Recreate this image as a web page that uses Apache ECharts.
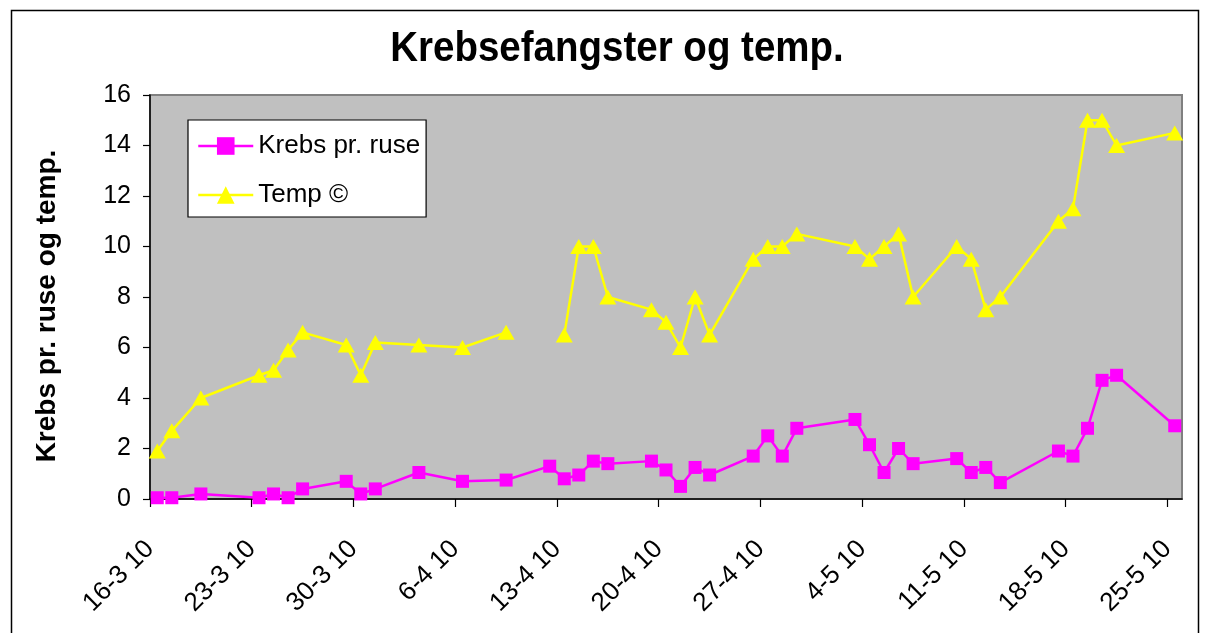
<!DOCTYPE html>
<html>
<head>
<meta charset="utf-8">
<script src="https://cdn.jsdelivr.net/npm/echarts@6/dist/echarts.min.js"></script>
<style>
html,body{margin:0;padding:0;background:#fff;}
#c{width:1205px;height:633px;}
</style>
</head>
<body>
<div id="c"></div>
<script>
const dates = ['2010-03-16','2010-03-17','2010-03-19','2010-03-23','2010-03-24','2010-03-25','2010-03-26','2010-03-29','2010-03-30','2010-03-31',
  '2010-04-03','2010-04-06','2010-04-09','2010-04-12','2010-04-13','2010-04-14','2010-04-15','2010-04-16','2010-04-19','2010-04-20','2010-04-21','2010-04-22','2010-04-23','2010-04-26','2010-04-27','2010-04-28','2010-04-29',
  '2010-05-03','2010-05-04','2010-05-05','2010-05-06','2010-05-07','2010-05-10','2010-05-11','2010-05-12','2010-05-13',
  '2010-05-17','2010-05-18','2010-05-19','2010-05-20','2010-05-21','2010-05-25'];
const krebs = [0.05,0.05,0.2,0.05,0.2,0.05,0.4,0.7,0.2,0.4,
  1.05,0.7,0.75,1.3,0.8,0.95,1.5,1.4,1.5,1.15,0.5,1.25,0.95,1.7,2.5,1.7,2.8,
  3.15,2.15,1.05,2.0,1.4,1.6,1.05,1.25,0.65,
  1.9,1.7,2.8,4.7,4.9,2.9];
const temp = [1.9,2.7,4.0,4.9,5.1,5.9,6.6,6.1,4.9,6.2,
  6.1,6.0,6.6,null,6.5,10,10,8,7.5,7,6,8,6.5,9.5,10,10,10.5,
  10,9.5,10,10.5,8,10,9.5,7.5,8,
  11,11.5,15,15,14,14.5];
const seriesNames = ['Krebs pr. ruse', 'Temp \u00A9'];
const titleText = 'Krebsefangster og temp.';
const yAxisTitle = 'Krebs pr. ruse og temp.';
const startDate = '2010-03-16';
const axisDays = 71;
const tickDays = 7;
const yMax = 16, yStep = 2;

const DAY = 86400000;
function utc(s){ const p = s.split('-').map(Number); return Date.UTC(p[0], p[1]-1, p[2]); }
const t0 = utc(startDate);
const xs = dates.map(d => (utc(d) - t0) / DAY + 0.5);
const krebsData = xs.map((x,i) => [x, krebs[i]]);
const tempData = xs.map((x,i) => [x, temp[i] == null ? '-' : temp[i]]);

function fmt(v){
  if (Math.abs(v % tickDays) > 1e-6) return '';
  const d = new Date(t0 + v * DAY);
  return d.getUTCDate() + '-' + (d.getUTCMonth()+1) + ' ' + String(d.getUTCFullYear()).slice(2);
}

const FONT = "'Liberation Sans', Arial, sans-serif";
const chart = echarts.init(document.getElementById('c'), null, {renderer:'canvas'});
chart.setOption({
  animation: false,
  backgroundColor: '#ffffff',
  legend: {
    orient: 'vertical', left: 188, top: 120,
    padding: [12, 6, 8, 9],
    backgroundColor: '#ffffff', borderColor: '#000000', borderWidth: 1.2, borderRadius: 0,
    itemWidth: 55, itemHeight: 22, itemGap: 21,
    lineStyle: {width: 2.5},
    textStyle: {fontFamily: FONT, fontSize: 26, color: '#000', lineHeight: 28},
    data: seriesNames
  },
  grid: {
    left: 150, top: 95, right: 23, bottom: 134,
    show: true, backgroundColor: '#C0C0C0', borderColor: '#808080', borderWidth: 2
  },
  xAxis: {
    type: 'value', min: 0, max: axisDays, interval: tickDays,
    axisLine: {show: true, lineStyle: {color: '#000', width: 1.5}},
    axisTick: {show: true, length: 8, lineStyle: {color: '#000', width: 1.2}},
    splitLine: {show: false},
    axisLabel: {
      rotate: 45, margin: 46, formatter: fmt, showMaxLabel: false,
      fontFamily: FONT, fontSize: 26, color: '#000'
    }
  },
  yAxis: {
    type: 'value', min: 0, max: yMax, interval: yStep,
    axisLine: {show: true, lineStyle: {color: '#000', width: 1.5}},
    axisTick: {show: true, length: 7, lineStyle: {color: '#000', width: 1.2}},
    splitLine: {show: false},
    axisLabel: {margin: 19, fontFamily: FONT, fontSize: 25, color: '#000'}
  },
  graphic: [
    {type: 'rect', left: 9, top: 8, shape: {width: 1187, height: 700},
      style: {fill: 'none', stroke: '#000', lineWidth: 1.5}, silent: true, z: 0},
    {type: 'text', x: 617, y: 49, scaleY: 1.12,
      style: {text: titleText, fontFamily: FONT, fontSize: 38.5, fontWeight: 'bold', fill: '#000',
        align: 'center', verticalAlign: 'middle'}, z: 10},
    {type: 'text', x: 47, y: 306, rotation: Math.PI/2,
      style: {text: yAxisTitle, fontFamily: FONT, fontSize: 28, fontWeight: 'bold', fill: '#000',
        align: 'center', verticalAlign: 'middle'}, z: 10}
  ],
  series: [
    {name: seriesNames[0], type: 'line', data: krebsData,
      symbol: 'rect', symbolSize: 13,
      lineStyle: {color: '#FF00FF', width: 2.5},
      itemStyle: {color: '#FF00FF', borderWidth: 0}},
    {name: seriesNames[1], type: 'line', data: tempData, connectNulls: false,
      symbol: 'triangle', symbolSize: [17, 15],
      lineStyle: {color: '#FFFF00', width: 2.5},
      itemStyle: {color: '#FFFF00', borderWidth: 0}}
  ]
});
</script>
</body>
</html>
